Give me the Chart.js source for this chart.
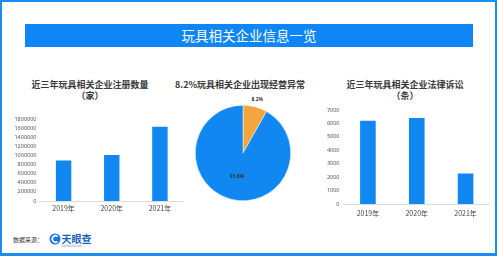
<!DOCTYPE html>
<html>
<head>
<meta charset="utf-8">
<script src="https://cdn.jsdelivr.net/npm/chart.js@4.4.1/dist/chart.umd.min.js"></script>
<style>
  body { margin: 0; width: 500px; height: 258px; background: #fff; overflow: hidden;
         font-family: "Noto Sans CJK SC", "Noto Sans", sans-serif; }
  #frame { position: absolute; left: 0; top: 0; width: 493px; height: 251px;
           border: 2px solid #1a8cf2; border-bottom-width: 3px; }
  #banner { position: absolute; left: 25px; top: 24px; width: 448px; height: 23px;
            background: #0f86f5; color: #fff; font-size: 13.5px; text-align: center;
            line-height: 23px; }
  .ttl { position: absolute; font-size: 9px; font-weight: bold; color: #3a3a3a;
         text-align: center; line-height: 11px; }
  canvas { position: absolute; }
  #src { position: absolute; left: 13px; top: 235px; font-size: 6px; color: #333; }
  #logo { position: absolute; left: 49px; top: 232px; }
</style>
</head>
<body>
<div id="frame"></div>
<div id="banner">玩具相关企业信息一览</div>

<div class="ttl" style="left:0;top:79px;width:180px;">近三年玩具相关企业注册数量<br>（家）</div>
<div class="ttl" style="left:160px;top:79px;width:160px;">8.2%玩具相关企业出现经营异常</div>
<div class="ttl" style="left:320px;top:79px;width:170px;">近三年玩具相关企业法律诉讼<br>（条）</div>

<canvas id="regChart" style="left:0;top:110px;width:184px;height:105px;"></canvas>
<canvas id="pieChart" style="left:183px;top:93px;width:120px;height:120px;"></canvas>
<canvas id="lawChart" style="left:300px;top:101px;width:190px;height:117px;"></canvas>

<div id="src">数据来源：</div>
<svg id="logo" width="50" height="16" viewBox="0 0 50 16">
  <circle cx="6" cy="7" r="5.5" fill="#1677e8"/>
  <path d="M8.5 4.5 A3.2 3.2 0 1 0 8.5 9.5" stroke="#fff" stroke-width="1.6" fill="none"/>
  <text x="12.5" y="10.5" font-size="10" font-weight="bold" fill="#1d5fb8" font-family="Noto Sans CJK SC">天眼查</text>
  <text x="12.5" y="14.5" font-size="2.6" fill="#6a8cc0" font-family="Noto Sans">TianYancha.com</text>
</svg>

<script>
var years = ['2019年', '2020年', '2021年'];
var regCounts = [890000, 1010000, 1630000];
var regTicks = [0, 200000, 400000, 600000, 800000, 1000000, 1200000, 1400000, 1600000, 1800000];
var lawCounts = [6200, 6400, 2280];
var lawTicks = [0, 1000, 2000, 3000, 4000, 5000, 6000, 7000];
var pieLabels = ['经营异常', '正常'];
var pieValues = [8.2, 91.8];

var blue = '#1187f2';
var orange = '#f5a53c';

function barChart(id, values, ticks, yWidth, tickPad, xPad) {
  return new Chart(document.getElementById(id), {
    type: 'bar',
    data: {
      labels: years,
      datasets: [{ data: values, backgroundColor: blue, barPercentage: 0.32, categoryPercentage: 1 }]
    },
    options: {
      responsive: false,
      animation: false,
      layout: { padding: { top: 9, right: 0, left: 0, bottom: 0 } },
      plugins: { legend: { display: false }, tooltip: { enabled: false } },
      scales: {
        x: {
          grid: { display: false, drawTicks: false },
          border: { display: true, color: '#dcdcdc' },
          ticks: { font: { size: 7, family: 'Noto Sans CJK SC' }, color: '#444', padding: xPad },
          afterFit: function(s) { s.height = 14; }
        },
        y: {
          min: 0,
          max: ticks[ticks.length - 1],
          afterBuildTicks: function(s) { s.ticks = ticks.map(function(v) { return { value: v }; }); },
          grid: { display: false, drawTicks: false },
          border: { display: false },
          ticks: { font: { size: 5.5, family: 'Noto Sans' }, color: '#555', padding: tickPad,
                   autoSkip: false,
                   callback: function(v) { return String(v); } },
          afterFit: function(s) { s.width = yWidth; }
        }
      }
    }
  });
}

barChart('regChart', regCounts, regTicks, 39.5, 3, 3);
barChart('lawChart', lawCounts, lawTicks, 43.5, 4, 5);

// percent labels on the pie
var pieLabelPlugin = {
  id: 'pieLabels',
  afterDatasetsDraw: function(chart) {
    var ctx = chart.ctx;
    var meta = chart.getDatasetMeta(0);
    ctx.save();
    ctx.font = 'bold 5px "Noto Sans"';
    ctx.fillStyle = '#333';
    ctx.textAlign = 'center';
    ctx.textBaseline = 'middle';
    meta.data.forEach(function(arc, i) {
      var p = arc.getProps(['startAngle', 'endAngle', 'outerRadius', 'x', 'y'], true);
      var mid = (p.startAngle + p.endAngle) / 2;
      var r = pieValues[i] < 20 ? p.outerRadius + 8 : p.outerRadius * 0.5;
      ctx.fillText(pieValues[i].toFixed(1) + '%', p.x + Math.cos(mid) * r, p.y + Math.sin(mid) * r);
    });
    ctx.restore();
  }
};

new Chart(document.getElementById('pieChart'), {
  type: 'pie',
  data: {
    labels: pieLabels,
    datasets: [{ data: pieValues, backgroundColor: [orange, blue], borderColor: '#fff', borderWidth: 0.5 }]
  },
  options: {
    responsive: false,
    animation: false,
    layout: { padding: 12 },
    plugins: { legend: { display: false }, tooltip: { enabled: false } }
  },
  plugins: [pieLabelPlugin]
});
</script>
</body>
</html>
